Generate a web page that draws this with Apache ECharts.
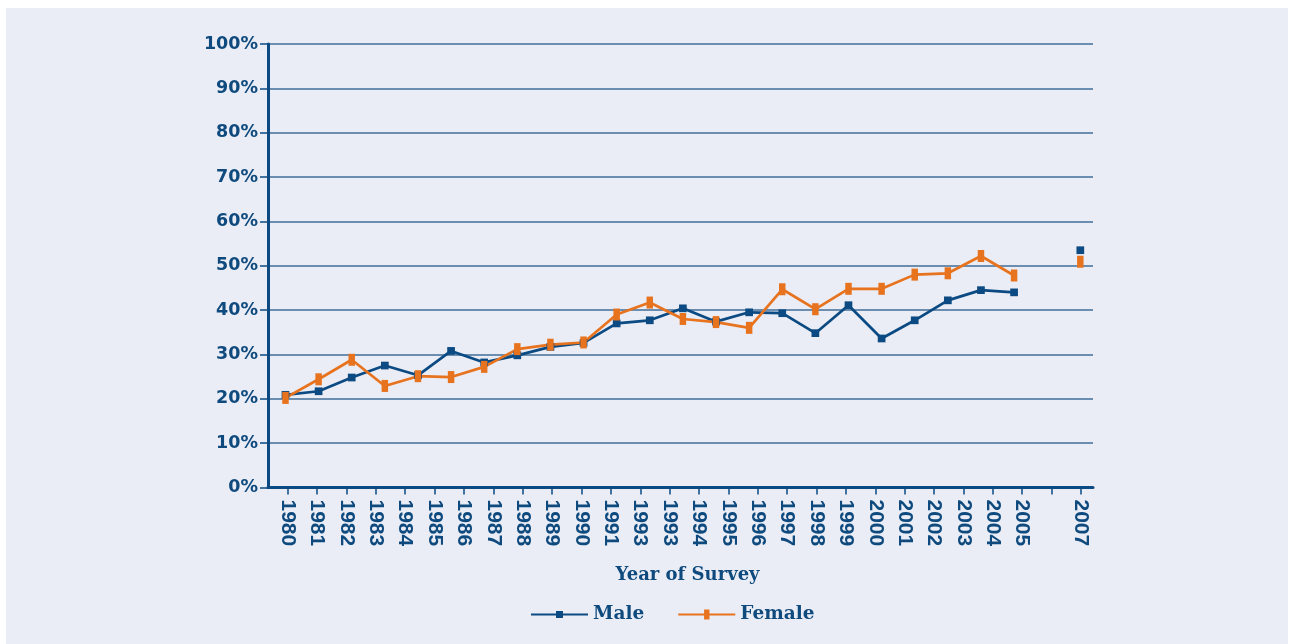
<!DOCTYPE html>
<html>
<head>
<meta charset="utf-8">
<title>Year of Survey</title>
<script src="https://cdn.jsdelivr.net/npm/echarts@6/dist/echarts.min.js"></script>
<style>
  html, body { margin: 0; padding: 0; background: #ffffff; }
  #chart { position: absolute; left: 6px; top: 8px; width: 1282px; height: 636px; background: #eaedf5; }
</style>
</head>
<body>
<div id="chart"></div>
<script>
// Year labels printed under the horizontal axis (one slot left blank before 2007)
const yearLabels = ['1980', '1981', '1982', '1983', '1984', '1985', '1986', '1987', '1988',
  '1989', '1990', '1991', '1993', '1993', '1994', '1995', '1996', '1997', '1998', '1999',
  '2000', '2001', '2002', '2003', '2004', '2005', '', '2007'];

// Survey results, percent, in survey order (gap before the final 2007 survey)
const malePct = [20.9, 21.7, 24.8, 27.5, 25.3, 30.8, 28.2, 29.8, 31.7, 32.6, 37.0, 37.7,
  40.4, 37.4, 39.5, 39.3, 34.8, 41.1, 33.6, 37.7, 42.2, 44.5, 44.0, null, 53.5];
const femalePct = [20.2, 24.4, 28.8, 22.9, 25.1, 24.9, 27.2, 31.2, 32.2, 32.7, 39.0, 41.7,
  38.0, 37.3, 36.0, 44.7, 40.2, 44.8, 44.8, 48.0, 48.3, 52.2, 47.8, null, 50.9];

// Percent ticks on the vertical axis
const percentTicks = [0, 10, 20, 30, 40, 50, 60, 70, 80, 90, 100];

const NAVY = '#0b4a82';
const ORANGE = '#e8731f';
const TEXT = '#0f4a7e';
const GRID = '#3f6c99';

const labelSlots = yearLabels.map((_, i) => i);
const toPairs = arr => arr.map((v, i) => [i, v]);

// square marker for Male, tall bar marker for Female (10x10 box keeps proportions)
const maleSymbol = 'path://M0,0M10,10M1.5,1.5h7v7h-7z';
const femaleSymbol = 'path://M0,0M10,10M2.3,0h5.4v10h-5.4z';

const chart = echarts.init(document.getElementById('chart'), null, { renderer: 'canvas' });

chart.setOption({
  animation: false,
  backgroundColor: 'transparent',
  grid: { left: 262, right: 195, top: 36, height: 443.5 },
  legend: {
    left: 519,
    top: 592,
    itemWidth: 57,
    itemHeight: 12.5,
    itemGap: 33,
    textStyle: { color: TEXT, fontFamily: 'DejaVu Serif', fontWeight: 'bold', fontSize: 18.5 },
    data: ['Male', 'Female']
  },
  xAxis: [
    {
      // labelled year axis
      type: 'value',
      min: -0.6705,
      max: 27.408,
      name: 'Year of Survey',
      nameLocation: 'middle',
      nameGap: 79,
      nameTextStyle: {
        color: TEXT, fontFamily: 'DejaVu Serif', fontWeight: 'bold', fontSize: 18,
        padding: [0, 0, 0, 14]
      },
      axisLine: { show: true, onZero: false, lineStyle: { color: NAVY, width: 3 } },
      axisTick: {
        show: true, length: 7, customValues: labelSlots,
        lineStyle: { color: NAVY, width: 1.5 }
      },
      axisLabel: {
        customValues: labelSlots,
        rotate: -90,
        margin: 12,
        color: TEXT,
        fontFamily: 'Liberation Sans',
        fontWeight: 'bold',
        fontSize: 21,
        formatter: v => yearLabels[Math.round(v)]
      },
      splitLine: { show: false }
    },
    {
      // survey positions for the plotted series
      type: 'value',
      min: -0.528,
      max: 24.383,
      show: false
    }
  ],
  yAxis: {
    type: 'value',
    min: percentTicks[0],
    max: percentTicks[percentTicks.length - 1],
    interval: 10,
    axisLine: { show: true, onZero: false, lineStyle: { color: NAVY, width: 3 } },
    axisTick: { show: true, length: 8, lineStyle: { color: NAVY, width: 1.5 } },
    axisLabel: {
      margin: 10,
      color: TEXT,
      fontFamily: 'DejaVu Sans',
      fontWeight: 'bold',
      fontSize: 17.5,
      formatter: '{value}%'
    },
    splitLine: { show: true, lineStyle: { color: GRID, width: 1.5 } }
  },
  series: [
    {
      name: 'Male',
      type: 'line',
      xAxisIndex: 1,
      data: toPairs(malePct),
      connectNulls: false,
      showAllSymbol: true,
      symbol: maleSymbol,
      symbolSize: 11,
      lineStyle: { color: NAVY, width: 2.7 },
      itemStyle: { color: NAVY, borderWidth: 0 },
      emphasis: { disabled: true }
    },
    {
      name: 'Female',
      type: 'line',
      xAxisIndex: 1,
      data: toPairs(femalePct),
      connectNulls: false,
      showAllSymbol: true,
      symbol: femaleSymbol,
      symbolSize: 12,
      lineStyle: { color: ORANGE, width: 2.7 },
      itemStyle: { color: ORANGE, borderWidth: 0 },
      emphasis: { disabled: true }
    }
  ]
});
</script>
</body>
</html>
